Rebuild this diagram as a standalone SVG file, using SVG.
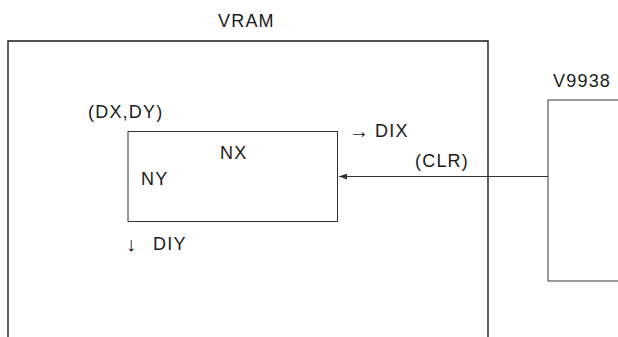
<svg xmlns="http://www.w3.org/2000/svg" width="618" height="337" viewBox="0 0 618 337">
<style>
text{font-family:"Liberation Sans",Arial,sans-serif;font-size:18px;fill:#1a1a1a;letter-spacing:1.2px}
.ar{font-size:20px;letter-spacing:0}
.ln{fill:none;stroke:#1a1a1a;stroke-width:1.4}
.th{fill:none;stroke:#333;stroke-width:1}
</style>
<defs>
<marker id="ah" viewBox="0 0 8 6" refX="8" refY="3" markerWidth="8" markerHeight="6" orient="auto" markerUnits="userSpaceOnUse">
<path d="M0,0 L8,3 L0,6 Z" fill="#333"/>
</marker>
</defs>
<rect width="618" height="337" fill="#fff"/>
<g id="vram">
<path class="ln" d="M8,337 V41 H488 V337"/>
<text x="218" y="27">VRAM</text>
</g>
<g id="area">
<rect class="th" x="128" y="131.5" width="209.5" height="90"/>
<text x="88" y="118">(DX,DY)</text>
<text x="220" y="159">NX</text>
<text x="141" y="185">NY</text>
<text class="ar" x="349" y="138">→</text>
<text x="375" y="137">DIX</text>
<text class="ar" x="126" y="251">↓</text>
<text x="153" y="250">DIY</text>
</g>
<g id="v9938">
<path class="th" d="M618,100 H548 V281 H618"/>
<text x="553" y="87" letter-spacing="1.5">V9938</text>
</g>
<g id="connectors">
<line class="th" x1="548" y1="176.5" x2="339" y2="176.5" marker-end="url(#ah)"/>
<text x="415" y="166.5">(CLR)</text>
</g>
</svg>
